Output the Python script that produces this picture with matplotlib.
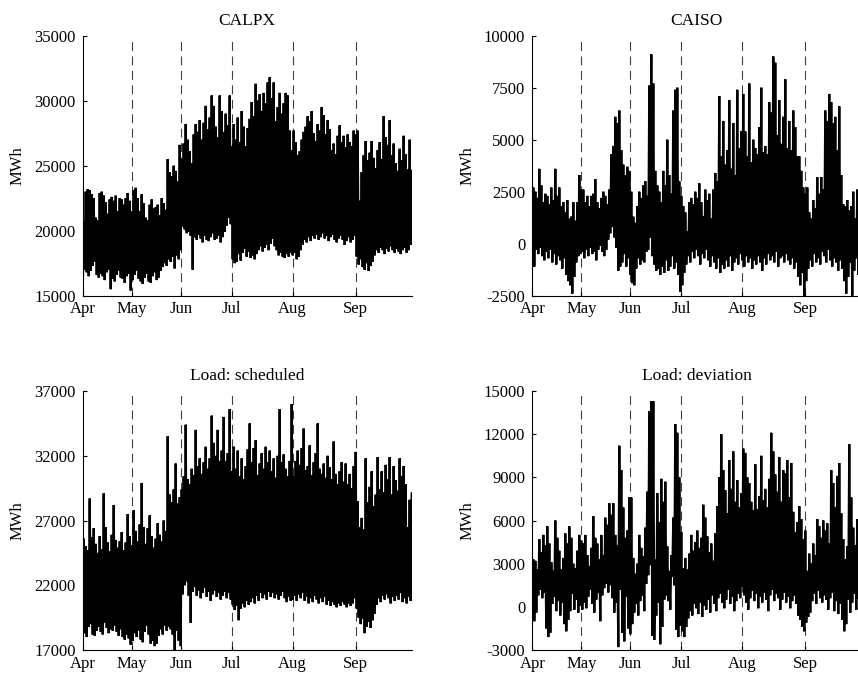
import matplotlib
matplotlib.use("Agg")
import matplotlib.pyplot as plt
import numpy as np

plt.rcParams['font.family'] = ['Liberation Serif', 'DejaVu Serif']
plt.rcParams['font.size'] = 12
plt.rcParams['axes.unicode_minus'] = False

# x axis: observation index (two samples per day: daily low, daily high)
months = ['Apr', 'May', 'Jun', 'Jul', 'Aug', 'Sep']
month_start = [0, 49, 98, 149, 210, 273]

# --- CALPX (MWh), one row per month ---
calpx_high = [
    20700, 23000, 23200, 23100, 22800, 22500, 21000, 20800, 22900, 23000, 22700, 22200, 21300, 22400, 22600, 22300, 22700, 21500, 22500, 22400, 22000, 22500, 22900, 22300, 21500,
    23100, 23300, 22500, 21500, 22800, 22100, 21000, 20800, 22000, 22400, 21700, 21800, 22000, 21200, 22500, 22100, 21600, 25500, 24500, 24200, 25000, 24600, 23800, 26600,
    25500, 26700, 28200, 27000, 26100, 25200, 27400, 28200, 27600, 28500, 27000, 28300, 29600, 27800, 28700, 30400, 29600, 28000, 27200, 30400, 29200, 27600, 29000, 28100, 30400, 26500,
    28200, 27000, 28700, 26800, 29200, 28000, 26500, 27900, 28600, 29900, 28800, 31300, 30000, 30500, 29200, 30600, 29800, 31400, 31800, 30200, 31400, 28400, 29500, 30600, 29000, 29800, 30600, 30400, 27700, 26200,
    27700, 26800, 25800, 26100, 27000, 27600, 28000, 28800, 28400, 29200, 27500, 26900, 28200, 27700, 29500, 28900, 27400, 28500, 27800, 26200, 26700, 25900, 27300, 28100, 26800, 27300, 26400, 27400, 26800, 26500, 27700, 27400,
    27700, 22300, 24500, 25800, 26900, 25400, 26000, 26900, 25600, 24800, 26200, 26800, 25500, 28800, 27200, 26600, 28500, 25800, 26700, 25200, 24600, 26300, 25400, 27300, 25900, 24700, 27000, 24600,
]
calpx_low = [
    15100, 17000, 16800, 16500, 16900, 17300, 17600, 16600, 16400, 16700, 16500, 16200, 16800, 17000, 15500, 16300, 16100, 16600, 16900, 16400, 16300, 16000, 16500, 16700, 15400,
    16200, 16600, 16900, 16300, 16100, 15900, 16400, 16700, 16100, 16000, 16500, 16800, 16200, 16400, 16900, 17200, 17500, 17300, 17800, 17600, 18000, 17100, 18100, 17800,
    18500, 20300, 20100, 19800, 19900, 19600, 17000, 19500, 19300, 19700, 19400, 19100, 19600, 19300, 19200, 19500, 19800, 19300, 19400, 19600, 19100, 19500, 19900, 20400, 21000, 20500,
    17800, 17500, 17600, 18200, 17700, 18300, 18600, 18000, 18400, 17900, 18100, 17800, 18200, 18500, 18800, 18400, 18700, 18900, 18500, 19000, 19400, 18800, 18500, 18100, 18300, 18000, 17900, 18200, 18000, 18300,
    18100, 18300, 17800, 18000, 18500, 18900, 19300, 19100, 19500, 19200, 19600, 19400, 19700, 19300, 19500, 19800, 19400, 19600, 19200, 19500, 19700, 19300, 19100, 19400, 19600, 19300, 18900, 19200, 19500, 19100, 19300, 19600,
    18000, 17400, 17800, 17200, 17000, 17500, 16900, 17300, 17600, 18100, 18500, 18300, 18700, 18500, 18200, 18600, 18400, 18800, 18500, 18300, 18600, 18400, 18200, 18500, 18700, 18300, 18500, 18900,
]

# --- CAISO (MWh) ---
caiso_high = [
    2700, 2500, 2200, 3600, 2800, 2000, 2400, 2300, 1900, 2700, 2100, 3600, 2300, 2700, 1800, 2000, 1500, 2100, 1200, 1300, 2000, 1100, 2000, 3300, 2600,
    2600, 2000, 2300, 1800, 2300, 2400, 3100, 2000, 1700, 2200, 2500, 2300, 1900, 2600, 4300, 4700, 6100, 5800, 6400, 4500, 3800, 3300, 3700, 3500,
    2500, 1300, 1000, 1800, 2500, 2200, 2800, 3000, 2300, 7600, 9100, 7700, 3500, 2800, 2500, 2000, 3500, 2800, 5000, 3300, 2400, 6400, 7400, 7500, 3000, 2300,
    1800, 1500, 600, 2000, 2200, 1900, 2500, 2200, 2900, 2000, 1300, 2600, 2100, 2400, 1200, 2600, 3400, 3000, 7100, 4200, 5900, 3800, 4500, 6900, 3600, 5800, 3300, 7400, 4600, 5400,
    7200, 5400, 4200, 7700, 3900, 5000, 4600, 4300, 5600, 7500, 4400, 4700, 4300, 6800, 6300, 9000, 8700, 5200, 6900, 4800, 6100, 7900, 4600, 5900, 4500, 6400, 5600, 4200, 4200, 3500, 2700, 2400,
    2700, 1500, 1200, 2100, 1700, 3200, 2400, 3200, 2600, 6400, 5900, 7200, 6800, 5800, 6100, 4500, 6600, 3300, 1900, 1800, 2100, 1600, 1800, 2500, 1200, 2600, 2000, 2300,
]
caiso_low = [
    -400, -1100, -300, -500, -200, -600, -800, -400, -700, -300, -900, -500, -1000, -600, -800, -1200, -700, -1500, -1800, -2000, -2400, -1600, -900, -600, -500,
    -400, -700, -300, -600, -200, -500, -400, -800, -300, -100, -400, -600, -300, 200, 500, 800, 300, -200, -1300, -1100, -900, -500, -1100, -700,
    -1500, -1900, -2000, -1200, -700, -1000, -800, -900, -400, -300, 300, -600, -1000, -1300, -1200, -1500, -1100, -1400, -800, -1300, -1100, -600, -1200, -900, -1500, -2300,
    -2000, -1400, -1000, -600, -900, -400, -700, -300, -600, -1000, -500, -700, -300, -800, -1100, -600, -900, -1200, -700, -1400, -1000, -1200, -800, -1100, -600, -1300, -900, -700, -1000, -500,
    -800, -1100, -600, -900, -700, -1200, -800, -1000, -600, -900, -1300, -700, -1000, -500, -800, -600, -900, -400, -1100, -700, -600, -900, -500, -800, -1000, -700, -1200, -900, -1600, -2000, -1400, -2500,
    -1800, -1200, -800, -1100, -500, -900, -700, -1000, -400, -600, -900, -300, -800, -1100, -700, -900, -1300, -800, -1200, -1800, -2400, -1600, -900, -2500, -1300, -700, -1500, -1000,
]

# --- Load: scheduled (MWh) ---
sched_high = [
    25600, 25000, 24700, 28700, 25700, 26400, 25200, 24500, 25800, 24800, 29100, 26500, 25300, 24600, 25900, 28200, 25500, 24900, 25400, 26100, 24700, 25300, 27500, 25800, 25100,
    27800, 26200, 25400, 26700, 29900, 26500, 25200, 26400, 27400, 25800, 24900, 25600, 26800, 25900, 25400, 27000, 26200, 33500, 29000, 28400, 29400, 31400, 28300, 28800,
    29400, 30400, 34400, 30200, 29800, 31000, 30500, 34000, 31200, 31800, 30600, 31500, 32700, 31000, 31800, 35100, 33000, 32000, 34000, 31600, 32400, 35000, 31600, 32200, 35600, 30800,
    32700, 31000, 32400, 30400, 31800, 30200, 31200, 32500, 34500, 31500, 32600, 33200, 30500, 31400, 32200, 31000, 32700, 31500, 32400, 30800, 31800, 30300, 32000, 35600, 31500, 32100, 31000, 30400, 31600, 36000,
    30400, 31600, 32400, 31300, 32600, 34100, 30900, 31200, 32800, 30500, 31500, 32200, 34500, 31000, 30600, 31400, 30300, 32000, 31100, 30200, 33100, 30600, 29800, 30800, 31500, 30000, 31400, 29800, 30600, 29500, 31200, 32300,
    28500, 26500, 27200, 26300, 31800, 28400, 29600, 30800, 28100, 29000, 31900, 29400, 30800, 29200, 31300, 30200, 31900, 29000, 31200, 30100, 29300, 31800, 30400, 31200, 29800, 26500, 28600, 29100,
]
sched_low = [
    18600, 18300, 18000, 18800, 19000, 18200, 18100, 18500, 18800, 18400, 18200, 19100, 18700, 18300, 18600, 18500, 18900, 18400, 18100, 18600, 18000, 17800, 18200, 17900, 17400,
    17700, 18300, 18000, 18500, 17800, 17600, 18400, 18900, 18200, 17500, 17700, 17300, 17500, 18100, 18600, 18200, 18900, 18500, 18800, 18600, 18200, 17000, 18500, 17700,
    17300, 21300, 22000, 22300, 21200, 19100, 21500, 21900, 21200, 21600, 21000, 21400, 21800, 21100, 21500, 20800, 21300, 21600, 21100, 21400, 20900, 21200, 21500, 21000, 21400, 20900,
    20500, 20100, 20400, 19300, 20200, 20600, 20300, 20800, 20500, 20700, 21000, 20600, 21200, 20800, 21400, 21000, 21300, 20900, 21500, 21100, 21400, 21000, 21300, 20900, 21200, 21500, 21000, 20700, 21100, 20800,
    20900, 21200, 20800, 21300, 21000, 21400, 20800, 21100, 20600, 21000, 20700, 21200, 20900, 20600, 21000, 20700, 21100, 20500, 20800, 20400, 20700, 20500, 20300, 20600, 20400, 20700, 20500, 20300, 20600, 20400, 20600, 21000,
    20200, 19500, 19000, 19400, 18300, 18800, 19200, 18700, 19300, 19800, 20500, 21000, 20700, 21200, 20900, 21300, 21000, 20600, 21100, 20800, 21200, 20900, 21400, 20700, 21000, 20600, 21100, 20800,
]

# --- Load: deviation (MWh) ---
dev_high = [
    3300, 3200, 2600, 4700, 3800, 5000, 4300, 5600, 4400, 3100, 2500, 6000, 4800, 3900, 2600, 3400, 5100, 4400, 5600, 4800, 3000, 2700, 3900, 5000, 4600,
    4400, 5000, 3600, 2800, 4100, 6300, 4800, 4400, 3300, 5000, 3600, 6200, 5700, 7200, 6400, 7200, 5000, 4300, 11200, 9500, 6900, 4800, 5300, 7600,
    7600, 3400, 2300, 3000, 5000, 4100, 3500, 5500, 8000, 13600, 14300, 14300, 3300, 7900, 5900, 8900, 7300, 8700, 4200, 2500, 3600, 6200, 12700, 12100, 9000, 5200,
    2700, 3400, 2600, 3700, 5000, 3900, 4500, 5300, 4100, 4800, 7100, 6200, 4900, 3800, 4400, 3200, 5100, 7000, 9000, 12000, 9500, 8100, 6500, 10200, 8200, 10800, 7300, 8800, 6900, 7900,
    11000, 10700, 9000, 8600, 7300, 6700, 9900, 6800, 7700, 10500, 7400, 8200, 6900, 8900, 12100, 10800, 9200, 8000, 10400, 7300, 9500, 9300, 10200, 7600, 10000, 6600, 5200, 5900, 7000, 6100, 4700, 5300,
    2500, 3700, 3000, 4400, 3600, 6100, 5600, 4800, 6000, 5300, 5800, 4400, 9500, 8600, 6900, 9100, 10000, 6500, 4700, 3300, 4200, 11300, 7600, 5500, 4300, 6100, 4800, 5600,
]
dev_low = [
    300, -1000, -400, 800, 1200, 600, 1000, -1500, -2100, -1800, 200, 700, -300, 400, -600, 300, -1200, -1700, -900, -300, 900, -200, 500, -400, 100,
    -200, 300, -100, 700, 1200, 200, -400, 500, 1000, -1000, 800, 1300, 1600, 1000, 1500, 600, -400, 300, -2800, 1200, -1800, -2400, 700, -1500,
    -1900, -1200, -400, 200, -600, 400, 800, -300, 1600, 2200, 2900, -2000, -2300, -600, 300, -2600, -1400, 500, 800, 400, -200, 2100, 1500, -1600, -2100, -1300,
    -1700, -2100, -1400, -800, -300, -600, 200, -100, -500, 300, -700, 100, -200, 500, -400, 800, 200, -300, 600, 900, 300, -100, 500, 1200, 200, 700, -300, 400, 900, 600,
    1400, 800, 300, -200, 600, 1100, 400, 900, -100, 700, 300, 1000, 500, -300, 800, 1200, 400, 900, 600, -200, 500, 1000, 300, 700, -100, 400, 800, 200, -600, -900, -1400, -1700,
    -1100, -700, -400, 400, 900, 200, 1100, 600, 300, 800, 500, -200, 600, 1000, -300, 400, -500, 200, -900, -1700, -1200, 500, -400, 300, 900, -200, 600, 1400,
]

panels = [
    ('CALPX', calpx_low, calpx_high, [15000, 20000, 25000, 30000, 35000]),
    ('CAISO', caiso_low, caiso_high, [-2500, 0, 2500, 5000, 7500, 10000]),
    ('Load: scheduled', sched_low, sched_high, [17000, 22000, 27000, 32000, 37000]),
    ('Load: deviation', dev_low, dev_high, [-3000, 0, 3000, 6000, 9000, 12000, 15000]),
]

# axes boxes in figure fractions
boxes = [
    [0.0964, 0.5658, 0.3834, 0.3818],
    [0.6204, 0.5658, 0.3834, 0.3818],
    [0.0964, 0.0455, 0.3834, 0.3803],
    [0.6204, 0.0455, 0.3834, 0.3803],
]

fig = plt.figure(figsize=(8.58, 6.81), dpi=100)

for (title, low, high, yticks), box in zip(panels, boxes):
    ax = fig.add_axes(box)
    # interleave daily low / high to get the dense hourly look
    series = np.column_stack([low, high]).ravel()
    x = np.arange(len(series))
    ax.plot(x, series, color='black', lw=1.6, solid_joinstyle='miter', zorder=2)

    # month separators sit behind the data
    for m in month_start[1:]:
        ax.axvline(m, color='0.25', lw=0.8, dashes=(8, 5), zorder=1)

    ax.set_xlim(0, len(series) - 1)
    ax.set_ylim(yticks[0], yticks[-1])
    ax.set_yticks(yticks)
    ax.set_yticklabels([str(v) for v in yticks])
    ax.set_xticks(month_start)
    ax.set_xticklabels(months)
    ax.tick_params(direction='in', length=3, width=0.8, pad=5)
    ax.tick_params(axis='x', pad=4)

    ax.spines['top'].set_visible(False)
    ax.spines['right'].set_visible(False)
    ax.set_title(title, fontsize=12.5, pad=8)
    ax.set_ylabel('MWh', labelpad=6)

fig.savefig('out.png', dpi=100)
